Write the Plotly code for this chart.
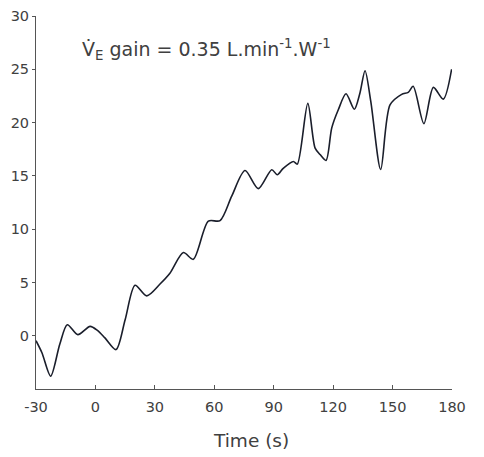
import plotly.graph_objects as go

time_s = [-30, -27, -22.6, -18, -14.2, -8.9, -2.7, 1, 4.8, 10.4, 15, 20, 25.9, 32.6, 37.6, 44.4, 49.4, 57, 62.9, 68.8,
          75.5, 82.2, 89, 91.8, 94.8, 99.9, 101.9, 107.2, 110.9, 113.4, 116.4, 119.3, 122.6, 126.5, 130.7, 133.5,
          136.1, 139, 144, 148.7, 154.6, 157.9, 160.4, 165.8, 170.6, 175.6, 179.8]
ve_gain = [-0.47, -1.6, -3.8, -0.8, 1.03, 0.1, 0.88, 0.5, -0.2, -1.3, 1.5, 4.74, 3.74, 4.85, 5.86, 7.8, 7.17, 10.75, 10.8, 13.1,
           15.5, 13.8, 15.58, 15.1, 15.7, 16.35, 16.1, 21.8, 17.6, 17.0, 16.45, 19.5, 21.2, 22.7, 21.25, 22.75,
           24.86, 22.0, 15.6, 21.65, 22.65, 22.84, 23.4, 19.9, 23.3, 22.2, 25.0]

x_ticks = [-30, 0, 30, 60, 90, 120, 150, 180]
y_ticks = [0, 5, 10, 15, 20, 25, 30]

FONT = "DejaVu Sans"
TXT = "#404040"
AX = "#555555"

fig = go.Figure()
fig.add_trace(go.Scatter(x=time_s, y=ve_gain, mode="lines",
                         line=dict(color="#1a1e2b", width=1.6, shape="spline", smoothing=0.8),
                         showlegend=False, hoverinfo="skip"))

fig.update_layout(
    width=476, height=449,
    margin=dict(l=28, r=32, t=8, b=68, autoexpand=False),
    paper_bgcolor="white", plot_bgcolor="white",
    font=dict(family=FONT, color=TXT, size=14.5),
    xaxis=dict(range=[-30, 180], tickvals=x_ticks, ticktext=[str(v) for v in x_ticks],
               showline=True, linecolor=AX, linewidth=1, ticks="inside", ticklen=4, tickcolor=AX,
               ticklabelstandoff=5,
               showgrid=False, zeroline=False, automargin=False, tickfont=dict(size=14.5, color=TXT)),
    yaxis=dict(range=[-5, 30], tickvals=y_ticks, ticktext=[str(v) for v in y_ticks],
               showline=True, linecolor=AX, linewidth=1, ticks="outside", ticklen=3, tickcolor=AX,
               showgrid=False, zeroline=False, automargin=False, tickfont=dict(size=14.5, color=TXT)),
    annotations=[
        dict(text="Time (s)", xref="paper", yref="paper", x=0.517, y=-0.139,
             xanchor="center", yanchor="middle", showarrow=False,
             font=dict(family=FONT, size=18.5, color=TXT)),
        dict(text="V\u0307<sub>E</sub> gain = 0.35 L.min<sup>-1</sup>.W<sup>-1</sup>",
             xref="paper", yref="paper", x=0.105, y=0.909, xanchor="left", yanchor="middle",
             showarrow=False, font=dict(family=FONT, size=19, color=TXT)),
    ],
)

fig.write_html("out.html")
